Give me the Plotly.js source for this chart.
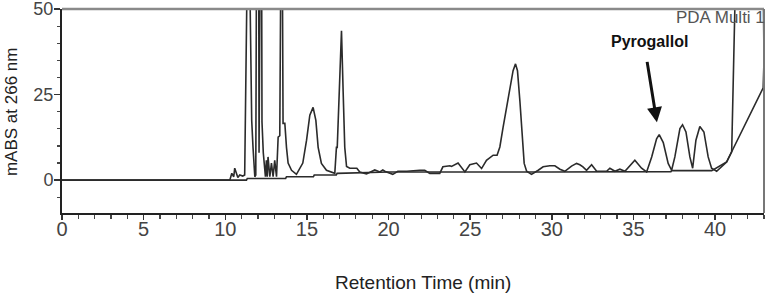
<!DOCTYPE html>
<html>
<head>
<meta charset="utf-8">
<script src="https://cdn.plot.ly/plotly-3.0.1.min.js"></script>
<style>
html,body{margin:0;padding:0;background:#fff;}
#chart{width:767px;height:294px;}
</style>
</head>
<body>
<div id="chart"></div>
<script>
// Sample chromatogram (retention time in min, absorbance in mAU)
const sampleTime = [0, 10.28, 10.40, 10.52, 10.58, 10.67, 10.77, 10.89, 11.07, 11.19, 11.26, 11.34, 11.50, 11.54, 11.62, 11.70, 11.76, 11.81, 11.87, 11.91, 12.05, 12.07, 12.13, 12.23, 12.25, 12.33, 12.42, 12.46, 12.52, 12.57, 12.62, 12.73, 12.83, 12.93, 13.03, 13.14, 13.24, 13.34, 13.40, 13.50, 13.54, 13.65, 13.75, 13.85, 14.06, 14.36, 14.75, 14.98, 15.18, 15.38, 15.55, 15.69, 15.89, 16.20, 16.71, 16.81, 16.86, 17.02, 17.12, 17.22, 17.32, 17.43, 17.63, 18.06, 18.24, 18.65, 19.16, 19.47, 19.65, 19.77, 20.26, 20.57, 21.12, 21.92, 22.22, 22.53, 23.14, 23.33, 23.76, 23.86, 24.26, 24.68, 24.98, 25.39, 25.70, 26.00, 26.41, 26.65, 26.82, 27.02, 27.33, 27.63, 27.78, 27.90, 28.05, 28.19, 28.31, 28.46, 28.76, 29.17, 29.47, 29.88, 30.19, 30.50, 30.80, 31.21, 31.52, 31.72, 31.91, 32.13, 32.44, 32.75, 33.36, 33.56, 33.87, 34.17, 34.48, 35.09, 35.50, 35.81, 36.12, 36.42, 36.58, 36.83, 37.13, 37.34, 37.54, 37.85, 38.01, 38.22, 38.46, 38.63, 38.83, 39.07, 39.32, 39.58, 39.79, 40.10, 40.71, 41.02, 41.26, 42.95, 43.0];
const sampleAbs = [0, 0, 2, 1, 3.5, 2, 0.8, 1.5, 1.2, 1.5, 27, 60, 60, 40, 17.5, 9.6, 4.9, 1, 1.5, 60, 60, 8, 60, 60, 17, 8, 1, 1, 5.8, 1, 6.8, 1, 5, 1, 5.8, 1, 12.6, 13, 60, 60, 16.6, 16.6, 9.6, 5, 2.9, 1.7, 5, 11.7, 19, 21.3, 17.5, 9.6, 4.9, 2.9, 2, 9.6, 9.6, 28, 43.7, 26, 9.6, 4, 3.5, 3.5, 2.4, 1.8, 3, 2.4, 3, 2.6, 1.7, 2.6, 2.6, 2.9, 2.9, 2, 2, 3.9, 4.2, 4.0, 5, 2.4, 4.5, 5, 3.4, 5.8, 7.3, 7.3, 9.7, 15.5, 24.3, 32, 34, 32, 23, 11.7, 4.9, 2.6, 1.7, 2.9, 3.9, 4.2, 4.2, 3.2, 2.6, 4.1, 4.9, 4.5, 3.9, 2.9, 4.5, 2.6, 2.6, 3.5, 2.6, 3.2, 2.6, 5.8, 3.5, 2.4, 6.8, 12.1, 13.3, 11, 4.9, 2.9, 6.8, 15.1, 16.2, 14.1, 6.8, 3.5, 11.7, 15.7, 14.1, 6.8, 3.5, 2.6, 5.3, 8.3, 60, 60, 35];
// Baseline / blank trace
const baseTime = [0, 11.30, 11.35, 13.70, 13.75, 15.40, 15.45, 16.80, 16.85, 20.0, 30.0, 35.5, 37.3, 37.35, 39.8, 40.71, 41.02, 42.95, 43.0];
const baseAbs = [0, 0, 0.5, 0.5, 1, 1, 1.5, 1.5, 2, 2.4, 2.4, 2.5, 2.5, 2.8, 2.8, 5.3, 8.3, 27, 35];
// Axis ticks
const yTickVals = [0, 25, 50];
const yTickText = ['0', '25', '50'];
const xTickVals = [0, 5, 10, 15, 20, 25, 30, 35, 40];
const xTickText = ['0', '5', '10', '15', '20', '25', '30', '35', '40'];
// Annotated compound
const peakName = 'Pyrogallol';
const peakTime = 36.44;
const peakAbs = 16.9;

const tickFamily = '"Liberation Sans", Arial, sans-serif';

const data = [
  {x: sampleTime, y: sampleAbs, type: 'scatter', mode: 'lines',
   line: {color: '#2b2b2b', width: 1.6}, hoverinfo: 'skip'},
  {x: baseTime, y: baseAbs, type: 'scatter', mode: 'lines',
   line: {color: '#2b2b2b', width: 1.6}, hoverinfo: 'skip'}
];

const layout = {
  width: 767, height: 294,
  margin: {l: 62, r: 3, t: 9, b: 81},
  paper_bgcolor: '#fff', plot_bgcolor: '#fff',
  showlegend: false,
  xaxis: {
    range: [0, 43], tickmode: 'array', tickvals: xTickVals, ticktext: xTickText,
    showgrid: false, zeroline: false, showline: true, linecolor: '#222', linewidth: 2,
    ticks: 'outside', ticklen: 5, tickwidth: 1.5, tickcolor: '#333',
    tickfont: {family: tickFamily, size: 20, color: '#444'},
    ticklabelstandoff: -8, ticklabeloverflow: 'allow',
    minor: {dtick: 1, ticklen: 4, tickwidth: 1.2, tickcolor: '#444', ticks: 'outside', showgrid: false}
  },
  yaxis: {
    range: [-9.6, 50.05], tickmode: 'array', tickvals: yTickVals, ticktext: yTickText,
    showgrid: false, zeroline: false, showline: true, linecolor: '#222', linewidth: 2,
    ticks: 'outside', ticklen: 6, tickwidth: 1.5, tickcolor: '#333',
    tickfont: {family: tickFamily, size: 18, color: '#444'},
    ticklabelstandoff: -3, ticklabeloverflow: 'allow',
    minor: {dtick: 5, ticklen: 3, tickwidth: 1.2, tickcolor: '#444', ticks: 'outside', showgrid: false}
  },
  shapes: [
    {type: 'line', xref: 'paper', yref: 'paper', x0: 0, x1: 1, y0: 1, y1: 1, line: {color: '#8a8a8a', width: 2.5}},
    {type: 'line', xref: 'paper', yref: 'paper', x0: 1, x1: 1, y0: 0, y1: 1, line: {color: '#777', width: 2}}
  ],
  annotations: [
    {text: 'mABS at 266 nm', xref: 'paper', yref: 'paper', x: -0.0726, y: 0.495,
     textangle: -90, showarrow: false, xanchor: 'center', yanchor: 'middle',
     font: {family: '"Liberation Sans", Arial, sans-serif', size: 17, color: '#222'}},
    {text: 'Retention Time (min)', xref: 'paper', yref: 'paper', x: 0.514, y: -0.343,
     showarrow: false, xanchor: 'center', yanchor: 'middle',
     font: {family: '"Liberation Sans", Arial, sans-serif', size: 19, color: '#222'}},
    {text: 'PDA Multi 1', xref: 'paper', yref: 'paper', x: 1.004, y: 0.958,
     showarrow: false, xanchor: 'right', yanchor: 'middle',
     font: {family: tickFamily, size: 17, color: '#555'}},
    {text: '<b>' + peakName + '</b>', xref: 'paper', yref: 'paper', x: 0.8376, y: 0.843,
     showarrow: false, xanchor: 'center', yanchor: 'middle',
     font: {family: '"Liberation Sans", Arial, sans-serif', size: 16, color: '#111'}},
    {text: '', x: peakTime, y: peakAbs, xref: 'x', yref: 'y', showarrow: true,
     ax: -10, ay: -62, arrowhead: 2, arrowsize: 1, arrowwidth: 3, arrowcolor: '#111'}
  ]
};

Plotly.newPlot('chart', data, layout, {staticPlot: true, displayModeBar: false});
</script>
</body>
</html>
